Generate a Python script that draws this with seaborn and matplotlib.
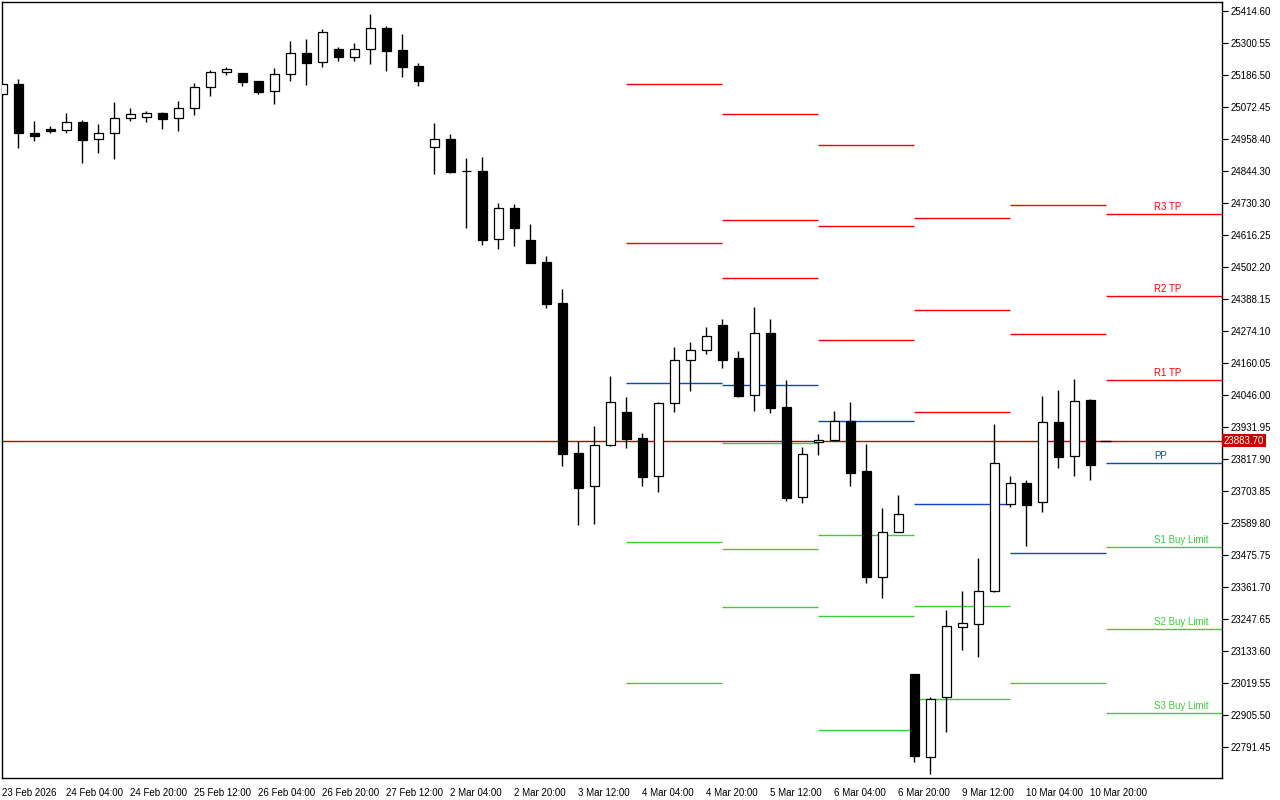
import matplotlib
matplotlib.use("Agg")
import matplotlib.pyplot as plt
import seaborn as sns

# 4h candles, 23 Feb 2026 -> 10 Mar 2026
opens = [25117.7, 25153.4, 24979.8, 24994.0, 24989.4, 25017.9, 24957.3, 24978.7, 25032.2, 25035.7,
         25050.0, 25032.2, 25067.8, 25142.7, 25196.1, 25193.6, 25165.1, 25128.4, 25189.0, 25263.8,
         25231.8, 25278.1, 25251.7, 25278.1, 25352.9, 25274.5, 25217.5, 24928.8, 24958.4, 24843.3,
         24844.4, 24600.9, 24711.4, 24597.4, 24519.0, 24373.9, 23838.2, 23720.6, 23866.7, 23984.3,
         23891.7, 23756.2, 24016.4, 24169.7, 24205.3, 24295.5, 24177.9, 24044.9, 24267.0, 24003.2,
         23681.4, 23877.4, 23884.5, 23952.3, 23775.1, 23396.3, 23556.7, 23051.6, 22754.7, 22968.6,
         23218.1, 23228.8, 23346.4, 23656.4, 23731.3, 23663.6, 23948.7, 23827.5, 24028.2]
highs = [25158.0, 25172.2, 25022.5, 25004.7, 25051.1, 25025.0, 25011.9, 25090.3, 25068.9, 25057.1,
         25054.6, 25093.8, 25158.0, 25204.3, 25215.0, 25195.4, 25166.9, 25211.4, 25307.7, 25314.8,
         25350.4, 25286.3, 25300.5, 25403.9, 25361.1, 25332.6, 25228.2, 25015.4, 24976.2, 24890.7,
         24894.2, 24730.3, 24726.7, 24655.5, 24541.4, 24423.8, 23881.0, 23935.5, 24113.7, 24038.9,
         23910.6, 24021.1, 24217.1, 24234.9, 24288.4, 24316.9, 24202.8, 24359.6, 24316.9, 24099.5,
         23860.7, 23908.1, 23989.0, 24021.1, 23871.4, 23644.3, 23689.6, 23051.6, 22969.7, 23279.7,
         23348.5, 23465.1, 23942.6, 23757.3, 23743.1, 24042.4, 24063.8, 24103.0, 24031.7]
lows = [25111.6, 24927.4, 24952.3, 24980.9, 24980.9, 24873.9, 24909.6, 24888.2, 25023.6, 25020.1,
        24995.1, 24988.0, 25045.0, 25112.7, 25187.6, 25148.4, 25119.9, 25084.2, 25166.2, 25151.9,
        25216.1, 25236.4, 25236.4, 25226.8, 25201.8, 25180.4, 25148.4, 24834.7, 24838.3, 24642.3,
        24581.7, 24567.4, 24578.1, 24517.5, 24357.1, 23794.0, 23583.7, 23587.3, 23866.0, 23858.2,
        23722.7, 23701.4, 23986.5, 24061.3, 24193.2, 24143.3, 24039.9, 23990.0, 23982.9, 23669.3,
        23662.2, 23833.2, 23883.8, 23722.7, 23376.0, 23323.6, 23556.0, 22739.1, 22696.3, 22846.0,
        23136.1, 23113.3, 23342.8, 23647.9, 23508.9, 23630.1, 23786.9, 23758.4, 23744.1]
closes = [25153.4, 24980.9, 24970.2, 24986.9, 25017.9, 24955.9, 24978.7, 25032.2, 25046.4, 25050.0,
          25030.8, 25067.8, 25142.7, 25196.1, 25206.8, 25162.6, 25127.0, 25189.0, 25263.8, 25230.3,
          25338.7, 25251.7, 25278.1, 25352.9, 25273.1, 25216.1, 25166.2, 24957.3, 24841.9, 24842.6,
          24599.5, 24711.4, 24642.3, 24517.5, 24371.4, 23836.8, 23715.6, 23866.7, 24020.0, 23890.2,
          23754.8, 24016.4, 24169.7, 24205.3, 24255.2, 24171.8, 24043.5, 24267.0, 24000.7, 23680.0,
          23835.7, 23884.5, 23952.3, 23769.1, 23397.3, 23556.7, 23620.8, 22760.4, 22962.5, 23221.6,
          23232.3, 23346.4, 23802.6, 23731.3, 23655.0, 23948.7, 23826.1, 24023.5, 23797.6]

date_ticks = [0, 4, 8, 12, 16, 20, 24, 28, 32, 36, 40, 44, 48, 52, 56, 60, 64, 68]
date_labels = ["23 Feb 2026", "24 Feb 04:00", "24 Feb 20:00", "25 Feb 12:00", "26 Feb 04:00",
               "26 Feb 20:00", "27 Feb 12:00", "2 Mar 04:00", "2 Mar 20:00", "3 Mar 12:00",
               "4 Mar 04:00", "4 Mar 20:00", "5 Mar 12:00", "6 Mar 04:00", "6 Mar 20:00",
               "9 Mar 12:00", "10 Mar 04:00", "10 Mar 20:00"]

price_ticks = [25414.60, 25300.55, 25186.50, 25072.45, 24958.40, 24844.35, 24730.30, 24616.25,
               24502.20, 24388.15, 24274.10, 24160.05, 24046.00, 23931.95, 23817.90, 23703.85,
               23589.80, 23475.75, 23361.70, 23247.65, 23133.60, 23019.55, 22905.50, 22791.45]
price_labels = ["25414.60", "25300.55", "25186.50", "25072.45", "24958.40", "24844.30", "24730.30",
                "24616.25", "24502.20", "24388.15", "24274.10", "24160.05", "24046.00", "23931.95",
                "23817.90", "23703.85", "23589.80", "23475.75", "23361.70", "23247.65", "23133.60",
                "23019.55", "22905.50", "22791.45"]

last_price = 23883.70

# daily pivot segments (start bar, end bar)
seg_start = [39, 45, 51, 57, 63, 69]
seg_end = [45, 51, 57, 63, 69, 80]
r3 = [None, 25047.5, 24935.9, 24675.8, None, 24690.0]
r2 = [25153.4, 24668.6, 24648.3, 24347.9, 24722.1, 24398.8]
r1 = [24586.7, 24461.9, 24241.0, 23984.3, 24263.4, 24099.5]
pp = [24087.7, 24081.6, 23952.3, 23656.4, 23481.8, 23802.6]
s1 = [23521.0, 23873.9, 23546.0, 23292.9, 23018.5, 23503.2]
s2 = [23018.5, 23496.1, 23257.3, 22961.5, None, 23210.9]
s3 = [None, 23289.3, 22851.0, None, None, 22911.6]

RED = "#ff0000"
BLUE = "#0a46c8"
GREEN = "#3ccc3c"

sns.set_theme(style="white")
plt.rcParams["font.family"] = ["Liberation Sans", "DejaVu Sans"]

fig = plt.figure(figsize=(12.8, 8), dpi=100)
ax = fig.add_axes([2 / 1280, 22 / 800, 1220 / 1280, 776 / 800])

# pivot lines
levels = [(r3, RED), (r2, RED), (r1, RED), (pp, BLUE), (s1, GREEN), (s2, GREEN), (s3, GREEN)]
for vals, col in levels:
    for a, b, v in zip(seg_start, seg_end, vals):
        if v is not None:
            ax.hlines(v, a, b, color=col, linewidth=1.0, zorder=2)

# current price line
ax.axhline(last_price, color="#c00000", linewidth=1.0, zorder=1)
ax.hlines(last_price, 68.6, 69.3, color="black", linewidth=1.0, zorder=4)

# candles
n = len(opens)
xs = list(range(n))
ax.vlines(xs, lows, highs, color="black", linewidth=1.0, zorder=3)
for i in xs:
    o, c = opens[i], closes[i]
    bottom = min(o, c)
    h = max(abs(c - o), 0.5)
    face = "black" if c < o else "white"
    ax.bar(i, h, bottom=bottom, width=0.6, color=face, edgecolor="black",
           linewidth=0.9, zorder=4)

# pivot labels on the last segment
tags = [("R3 TP", r3[-1], RED), ("R2 TP", r2[-1], RED), ("R1 TP", r1[-1], RED),
        ("PP", pp[-1], BLUE), ("S1 Buy Limit", s1[-1], GREEN),
        ("S2 Buy Limit", s2[-1], GREEN), ("S3 Buy Limit", s3[-1], GREEN)]
for txt, v, col in tags:
    ax.annotate(txt, (72, v), xytext=(0, 1.5), textcoords="offset points",
                ha="left", va="bottom", fontsize=7, color=col)

ax.set_xlim(-0.02, 76.23)
ax.set_ylim(22681.0, 25446.7)

ax.set_xticks(date_ticks)
ax.set_xticklabels(date_labels, ha="left", fontsize=7)
ax.yaxis.tick_right()
ax.set_yticks(price_ticks)
ax.set_yticklabels(price_labels, fontsize=7)
ax.tick_params(axis="both", direction="out", length=4, width=0.8, color="black",
               pad=2, colors="black")
ax.tick_params(axis="x", pad=3)
ax.tick_params(axis="y", left=False, right=True)

for s in ax.spines.values():
    s.set_color("black")
    s.set_linewidth(1.0)

ax.text(1.0015, last_price, f"{last_price:.2f}", transform=ax.get_yaxis_transform(),
        ha="left", va="center", fontsize=7, color="white",
        bbox=dict(boxstyle="square,pad=0.15", facecolor="#c80000", edgecolor="none"))

ax.set_xlabel("")
ax.set_ylabel("")
fig.savefig("out.png", dpi=100, facecolor="white")
